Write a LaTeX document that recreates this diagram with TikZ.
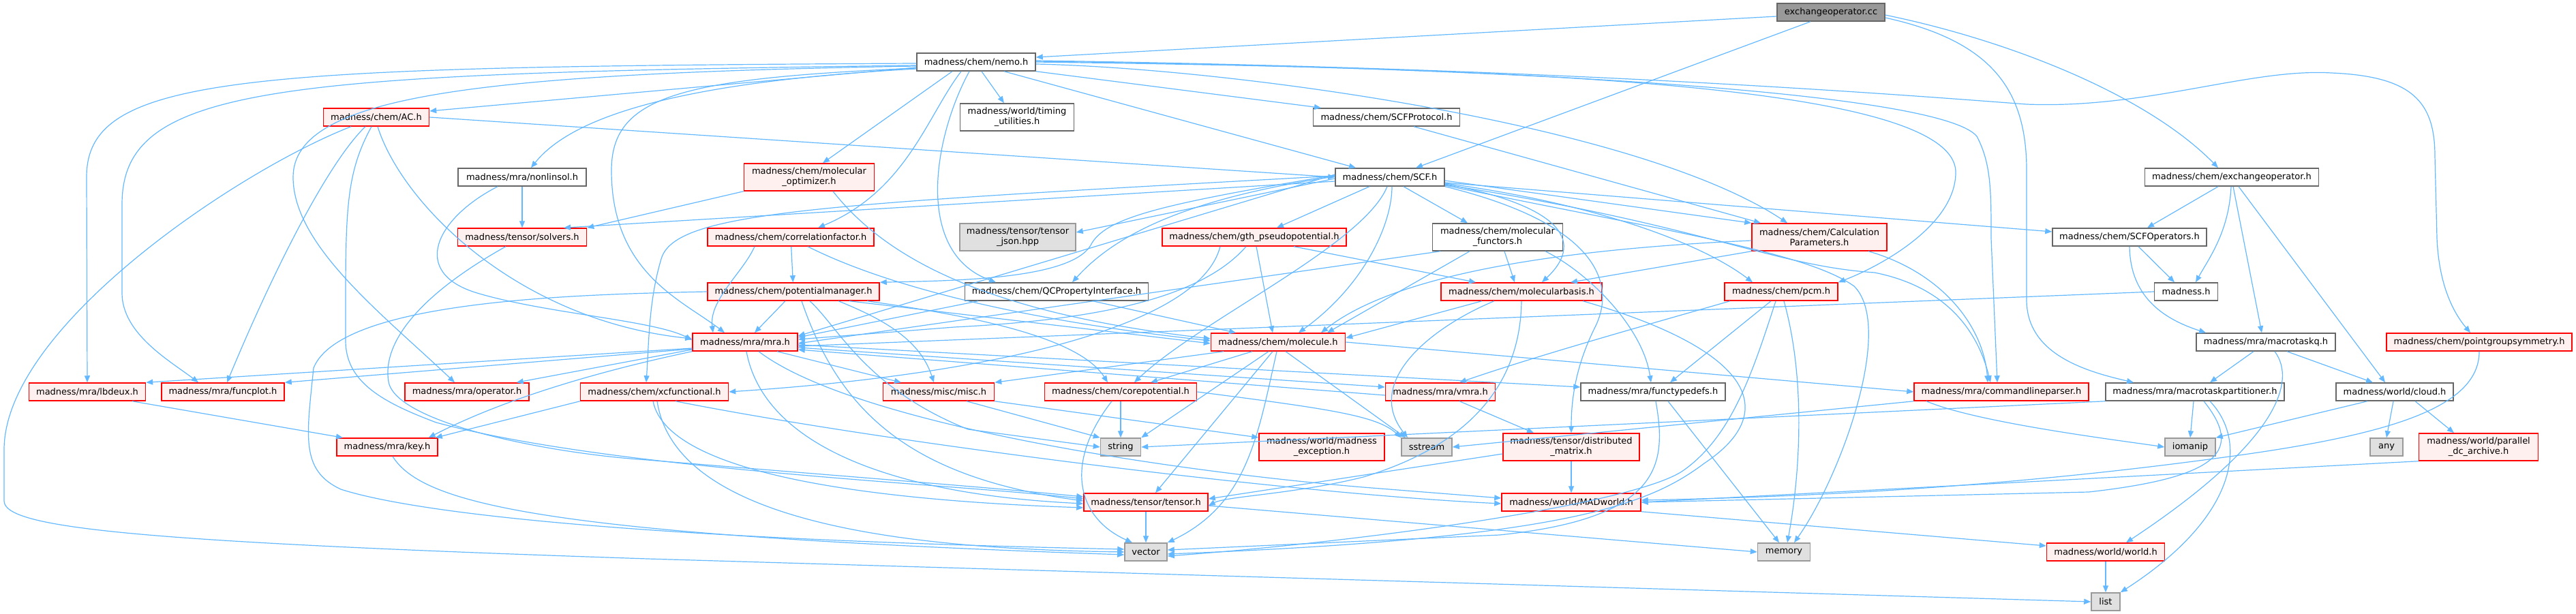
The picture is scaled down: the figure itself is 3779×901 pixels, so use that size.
\documentclass[tikz,border=0pt]{standalone}
\usepackage{fontspec}
\setmainfont{DejaVu Sans}
\usetikzlibrary{arrows.meta}
\definecolor{edgeblue}{HTML}{63B8FF}
\definecolor{redfill}{HTML}{FFF0F0}
\definecolor{grayborder}{HTML}{666666}
\definecolor{sysfill}{HTML}{E0E0E0}
\definecolor{sysborder}{HTML}{999999}
\definecolor{rootfill}{HTML}{999999}
\tikzset{
  nd/.style={rectangle, inner sep=0pt, line width=1.5pt, font=\fontsize{13}{15}\selectfont, align=center, minimum height=26pt},
  tall/.style={minimum height=40pt},
  wn/.style={nd, draw=grayborder, fill=white},
  rn/.style={nd, draw=red, fill=redfill},
  gn/.style={nd, draw=sysborder, fill=sysfill},
  rootn/.style={nd, draw=grayborder, fill=rootfill},
  e/.style={draw=edgeblue, line width=1.2pt, -{Triangle[length=10pt,width=8pt]}}
}
\begin{document}
\begin{tikzpicture}[x=1pt,y=-1pt]
\useasboundingbox (0,0) rectangle (3779,901);
% ---------- nodes ----------
\node[rootn, minimum width=158pt] (cc) at (2686,18) {exchangeoperator.cc};
\node[wn, minimum width=174pt] (nemo) at (1432,91) {madness/chem/nemo.h};
\node[rn, minimum width=155pt] (AC) at (552,172) {madness/chem/AC.h};
\node[wn, tall, minimum width=167pt] (timing) at (1492,172) {madness/world/timing\\\_utilities.h};
\node[wn, minimum width=215pt] (scfprot) at (2034,172) {madness/chem/SCFProtocol.h};
\node[wn, minimum width=160pt] (scf) at (2039,260) {madness/chem/SCF.h};
\node[wn, minimum width=188pt] (nonlin) at (766,260) {madness/mra/nonlinsol.h};
\node[rn, tall, minimum width=191pt] (molopt) at (1187,260) {madness/chem/molecular\\\_optimizer.h};
\node[wn, minimum width=255pt] (exop) at (3274,260) {madness/chem/exchangeoperator.h};
\node[rn, minimum width=189pt] (solvers) at (766,348) {madness/tensor/solvers.h};
\node[rn, minimum width=244pt] (corrf) at (1160,348) {madness/chem/correlationfactor.h};
\node[gn, tall, minimum width=170pt] (tjson) at (1493,348) {madness/tensor/tensor\\\_json.hpp};
\node[rn, minimum width=270pt] (gth) at (1840,348) {madness/chem/gth\_pseudopotential.h};
\node[wn, tall, minimum width=191pt] (molfun) at (2197,348) {madness/chem/molecular\\\_functors.h};
\node[rn, tall, minimum width=198pt] (calc) at (2669,348) {madness/chem/Calculation\\Parameters.h};
\node[wn, minimum width=226pt] (scfop) at (3124,348) {madness/chem/SCFOperators.h};
\node[rn, minimum width=252pt] (potm) at (1164,428) {madness/chem/potentialmanager.h};
\node[wn, minimum width=269pt] (qcp) at (1550,428) {madness/chem/QCPropertyInterface.h};
\node[rn, minimum width=236pt] (molbas) at (2232,428) {madness/chem/molecularbasis.h};
\node[rn, minimum width=166pt] (pcm) at (2613,428) {madness/chem/pcm.h};
\node[wn, minimum width=93pt] (madh) at (3207,428) {madness.h};
\node[rn, minimum width=154pt] (mra) at (1093,502) {madness/mra/mra.h};
\node[rn, minimum width=197pt] (molec) at (1875,502) {madness/chem/molecule.h};
\node[wn, minimum width=204pt] (mtq) at (3324,502) {madness/mra/macrotaskq.h};
\node[rn, minimum width=272pt] (pgs) at (3637,502) {madness/chem/pointgroupsymmetry.h};
\node[rn, minimum width=171pt] (lbdeux) at (128,575) {madness/mra/lbdeux.h};
\node[rn, minimum width=180pt] (funcplot) at (327,575) {madness/mra/funcplot.h};
\node[rn, minimum width=182pt] (operator) at (685,575) {madness/mra/operator.h};
\node[rn, minimum width=217pt] (xcf) at (960,575) {madness/chem/xcfunctional.h};
\node[rn, minimum width=163pt] (misc) at (1377,575) {madness/misc/misc.h};
\node[rn, minimum width=223pt] (corep) at (1644,575) {madness/chem/corepotential.h};
\node[rn, minimum width=161pt] (vmra) at (2113,575) {madness/mra/vmra.h};
\node[wn, minimum width=212pt] (ftd) at (2425,575) {madness/mra/functypedefs.h};
\node[rn, minimum width=256pt] (clp) at (2936,575) {madness/mra/commandlineparser.h};
\node[wn, minimum width=262pt] (mtp) at (3220,575) {madness/mra/macrotaskpartitioner.h};
\node[wn, minimum width=172pt] (cloud) at (3513,575) {madness/world/cloud.h};
\node[rn, minimum width=148pt] (key) at (568,656) {madness/mra/key.h};
\node[gn, minimum width=59pt] (string) at (1644,656) {string};
\node[rn, tall, minimum width=184pt] (mexc) at (1939,656) {madness/world/madness\\\_exception.h};
\node[gn, minimum width=74pt] (sstream) at (2093,656) {sstream};
\node[rn, tall, minimum width=200pt] (dmat) at (2305,656) {madness/tensor/distributed\\\_matrix.h};
\node[gn, minimum width=74pt] (iomanip) at (3213,656) {iomanip};
\node[gn, minimum width=48pt] (any) at (3501,656) {any};
\node[rn, tall, minimum width=175pt] (pdca) at (3636,656) {madness/world/parallel\\\_dc\_archive.h};
\node[rn, minimum width=182pt] (tensor) at (1681,737) {madness/tensor/tensor.h};
\node[rn, minimum width=204pt] (madw) at (2305,737) {madness/world/MADworld.h};
\node[gn, minimum width=62pt] (vector) at (1681,810) {vector};
\node[gn, minimum width=77pt] (memory) at (2617,810) {memory};
\node[rn, minimum width=173pt] (world) at (3089,810) {madness/world/world.h};
\node[gn, minimum width=42pt] (list) at (3089,883) {list};
% ---------- edges ----------
% exchangeoperator.cc
\draw[e] ([yshift=-6pt]cc.west) -- ([yshift=7pt]nemo.east);
\draw[e] ([xshift=-30pt]cc.south) -- ([xshift=38pt]scf.north);
\draw[e] ([yshift=-4pt]cc.east) .. controls (2950,60) and (3150,140) .. ([xshift=-20pt]exop.north);
\draw[e] ([yshift=-8pt]cc.east) .. controls (2920,60) and (2973,130) .. (2973,250) -- (2973,440) .. controls (2973,520) and (3060,545) .. ([xshift=-90pt]mtp.north);
% nemo
\draw[e] ([yshift=-8pt]nemo.west) -- ([yshift=9pt]AC.east);
\draw[e] ([yshift=-10pt]nemo.west) .. controls (1000,120) and (840,170) .. ([xshift=13pt]nonlin.north);
\draw[e] ([yshift=-2pt]nemo.west) .. controls (350,98) and (127,110) .. (127,260) -- (lbdeux.north);
\draw[e] ([yshift=-5pt]nemo.west) .. controls (400,108) and (179,125) .. (179,300) -- (179,430) .. controls (179,490) and (250,530) .. ([xshift=-36pt]funcplot.north);
\draw[e] ([yshift=-6pt]nemo.west) .. controls (700,108) and (430,140) .. (430,260) .. controls (430,360) and (560,460) .. ([xshift=-18pt]operator.north);
\draw[e] ([yshift=-9pt]nemo.west) .. controls (1000,115) and (897,140) .. (897,250) .. controls (897,400) and (1000,440) .. ([xshift=-30pt]mra.north);
\draw[e] ([xshift=-35pt]nemo.south) -- ([xshift=20pt]molopt.north);
\draw[e] ([xshift=-22pt]nemo.south) .. controls (1360,170) and (1330,280) .. ([xshift=40pt]corrf.north);
\draw[e] ([xshift=-10pt]nemo.south) .. controls (1370,200) and (1340,370) .. ([xshift=-89pt]qcp.north);
\draw[e] ([xshift=8pt]nemo.south) -- ([xshift=-19pt]timing.north);
\draw[e] ([xshift=41pt]nemo.south) -- ([xshift=-50pt]scf.north);
\draw[e] (nemo.south east) -- ([xshift=-96pt]scfprot.north);
\draw[e] ([yshift=-3pt]nemo.east) .. controls (1800,100) and (2400,180) .. ([xshift=-47pt]calc.north);
\draw[e] (nemo.east) .. controls (2200,100) and (2869,120) .. (2869,253) .. controls (2869,330) and (2760,390) .. (pcm.north east);
\draw[e] ([yshift=2pt]nemo.east) .. controls (2300,100) and (2800,140) .. (2973,153) .. controls (3150,160) and (3300,100) .. (3420,107) .. controls (3540,112) and (3572,150) .. (3572,230) -- (3575,350) .. controls (3578,420) and (3600,460) .. ([xshift=-13pt]pgs.north);
\draw[e] ([yshift=1pt]nemo.east) .. controls (2300,100) and (2850,140) .. (2900,200) .. controls (2921,240) and (2921,280) .. (2921,350) -- ([xshift=-6pt]clp.north);
% AC
\draw[e] (AC.east) -- (scf.west);
\draw[e] ([xshift=-37pt]AC.south) .. controls (350,250) and (6,480) .. (6,660) -- (6,735) .. controls (6,775) and (200,795) .. (950,820) -- (list.west);
\draw[e] ([xshift=-16pt]AC.south) .. controls (480,240) and (400,400) .. ([xshift=6pt]funcplot.north);
\draw[e] ([xshift=-7pt]AC.south) .. controls (510,250) and (507,300) .. (507,440) -- (507,500) .. controls (507,560) and (560,590) .. (640,620) .. controls (900,690) and (1400,710) .. ([yshift=5pt]tensor.west);
\draw[e] ([xshift=2pt]AC.south) .. controls (590,300) and (760,470) .. ([yshift=5pt]mra.west);
% nonlinsol
\draw[e] (nonlin) -- (solvers);
\draw[e] ([xshift=-36pt]nonlin.south) .. controls (640,320) and (600,400) .. (700,430) .. controls (800,460) and (960,470) .. ([yshift=3pt]mra.west);
% molecular_optimizer
\draw[e] (molopt.south west) -- (solvers.north east);
\draw[e] ([xshift=35pt]molopt.south) .. controls (1300,380) and (1450,460) .. ([yshift=5pt]molec.west);
% SCF
\draw[e] ([yshift=-6pt]scf.west) -- ([xshift=61pt]solvers.north);
\draw[e] ([yshift=-2pt]scf.west) -- ([yshift=7pt]tjson.east);
\draw[e] ([xshift=-30pt]scf.south) -- ([xshift=33pt]gth.north);
\draw[e] ([xshift=20pt]scf.south) -- ([xshift=-44pt]molfun.north);
\draw[e] ([yshift=-5pt]scf.east) -- (calc.north west);
\draw[e] ([yshift=-8pt]scf.east) -- ([yshift=8pt]scfop.west);
\draw[e] ([yshift=3pt]scf.west) .. controls (1700,300) and (1620,320) .. (1600,360) .. controls (1570,410) and (1400,412) .. (potm.north east);
\draw[e] ([yshift=1pt]scf.west) .. controls (1750,290) and (1640,340) .. ([xshift=23pt]qcp.north);
\draw[e] ([yshift=-10pt]scf.east) .. controls (2280,300) and (2330,350) .. ([xshift=30pt]molbas.north);
\draw[e] ([yshift=-9pt]scf.east) .. controls (2350,300) and (2500,360) .. ([xshift=-42pt]pcm.north);
\draw[e] ([yshift=4pt]scf.west) -- ([yshift=9pt]mra.east);
\draw[e] ([xshift=3pt]scf.south) .. controls (2042,330) and (2000,420) .. ([xshift=30pt]molec.north);
\draw[e] ([yshift=2pt]scf.west) .. controls (1200,300) and (990,310) .. (970,380) .. controls (952,440) and (952,500) .. ([xshift=-12pt]xcf.north);
\draw[e] ([xshift=-4pt]scf.south) .. controls (2000,360) and (1760,470) .. ([xshift=20pt]corep.north);
\draw[e] ([yshift=-11pt]scf.east) .. controls (2500,330) and (2600,390) .. (2750,400) .. controls (2850,420) and (2900,480) .. ([xshift=-16pt]clp.north);
\draw[e] ([yshift=-12pt]scf.east) .. controls (2450,340) and (2650,370) .. (2720,420) .. controls (2780,480) and (2700,700) .. ([xshift=15pt]memory.north);
\draw[e] (scf.south east) .. controls (2350,330) and (2370,420) .. (2340,480) .. controls (2310,540) and (2305,590) .. (dmat.north);
% exchangeoperator.h
\draw[e] ([xshift=-20pt]exop.south) -- ([xshift=26pt]scfop.north);
\draw[e] ([xshift=-1pt]exop.south) .. controls (3270,340) and (3240,380) .. ([xshift=14pt]madh.north);
\draw[e] ([xshift=2pt]exop.south) -- ([xshift=-6pt]mtq.north);
\draw[e] ([xshift=10pt]exop.south) -- ([xshift=-14pt]cloud.north);
% SCFOperators
\draw[e] ([xshift=13pt]scfop.south) -- ([xshift=-17pt]madh.north);
\draw[e] (scfop.south) .. controls (3125,440) and (3180,470) .. ([xshift=-88pt]mtq.north);
% madness.h
\draw[e] (madh.west) -- ([yshift=-6pt]mra.east);
% macrotaskq
\draw[e] ([xshift=-18pt]mtq.south) -- ([xshift=22pt]mtp.north);
\draw[e] ([xshift=13pt]mtq.south) .. controls (3370,560) and (3340,650) .. ([xshift=30pt]world.north);
\draw[e] ([xshift=31pt]mtq.south) -- ([xshift=-32pt]cloud.north);
% macrotaskpartitioner
\draw[e] ([xshift=-2pt]mtp.south) -- (iomanip.north);
\draw[e] ([xshift=22pt]mtp.south) .. controls (3300,650) and (3280,760) .. (list.north east);
\draw[e] ([xshift=13pt]mtp.south) .. controls (3290,660) and (3260,700) .. (3064,722) -- (madw.east);
\draw[e] (mtp.south west) -- (string.east);
% cloud
\draw[e] ([xshift=-40pt]cloud.south) -- (iomanip.north east);
\draw[e] ([xshift=-2pt]cloud.south) -- (any.north);
\draw[e] ([xshift=30pt]cloud.south) -- ([xshift=-36pt]pdca.north);
% parallel archive, pointgroupsymmetry
\draw[e] (pdca.south west) -- (madw.east);
\draw[e] (pgs.south) .. controls (3637,600) and (3500,640) .. (3248,673) .. controls (2900,720) and (2600,730) .. ([yshift=3pt]madw.east);
% correlationfactor
\draw[e] ([xshift=-53pt]corrf.south) .. controls (1090,400) and (1040,440) .. ([xshift=-47pt]mra.north);
\draw[e] (corrf) -- (potm);
\draw[e] ([xshift=25pt]corrf.south) .. controls (1300,420) and (1500,470) .. ([yshift=2pt]molec.west);
% potentialmanager
\draw[e] ([xshift=-12pt]potm.south) -- ([xshift=14pt]mra.north);
\draw[e] ([xshift=82pt]potm.south) -- ([yshift=-2pt]molec.west);
\draw[e] ([xshift=108pt]potm.south) .. controls (1400,460) and (1580,490) .. ([xshift=-19pt]corep.north);
\draw[e] ([xshift=66pt]potm.south) .. controls (1300,470) and (1350,500) .. ([xshift=-7pt]misc.north);
\draw[e] ([xshift=24pt]potm.south) .. controls (1230,480) and (1270,570) .. (1420,630) -- (string.west);
\draw[e] ([xshift=12pt]potm.south) .. controls (1230,600) and (1330,700) .. ([yshift=2pt]tensor.west);
\draw[e] (potm.west) .. controls (850,432) and (500,440) .. (460,540) .. controls (450,640) and (440,690) .. (500,718) .. controls (600,750) and (900,790) .. ([yshift=4pt]vector.west);
% QCPropertyInterface
\draw[e] ([xshift=-115pt]qcp.south) -- ([yshift=7pt]mra.east);
\draw[e] ([xshift=53pt]qcp.south) -- ([xshift=-62pt]molec.north);
% gth
\draw[e] ([xshift=-12pt]gth.south) .. controls (1760,440) and (1600,470) .. (1400,480) -- ([yshift=4pt]mra.east);
\draw[e] ([xshift=-50pt]gth.south) .. controls (1760,480) and (1450,550) .. (xcf.east);
\draw[e] ([xshift=3pt]gth.south) -- ([xshift=-8pt]molec.north);
\draw[e] ([xshift=58pt]gth.south) -- ([xshift=-67pt]molbas.north);
% molecular_functors
\draw[e] ([xshift=-84pt]molfun.south) -- ([yshift=-2pt]mra.east);
\draw[e] ([xshift=-41pt]molfun.south) -- ([xshift=72pt]molec.north);
\draw[e] ([xshift=10pt]molfun.south) -- ([xshift=-10pt]molbas.north);
\draw[e] ([xshift=70pt]molfun.south) .. controls (2330,400) and (2410,480) .. ([xshift=-3pt]ftd.north);
% CalculationParameters
\draw[e] (calc.south west) -- ([xshift=72pt]molbas.north);
\draw[e] ([yshift=-5pt]calc.west) .. controls (2300,365) and (2050,400) .. ([xshift=63pt]molec.north);
\draw[e] ([xshift=72pt]calc.south) .. controls (2850,400) and (2910,480) .. ([xshift=-20pt]clp.north);
% SCFProtocol
\draw[e] ([xshift=40pt]scfprot.south) -- ([xshift=-86pt]calc.north);
% molecularbasis
\draw[e] ([xshift=-58pt]molbas.south) -- ([yshift=6pt]molec.east);
\draw[e] ([xshift=-40pt]molbas.south) .. controls (2100,480) and (2000,560) .. ([xshift=-28pt]sstream.north);
\draw[e] (molbas.south) .. controls (2231,520) and (2200,640) .. (2000,700) .. controls (1900,725) and (1800,728) .. ([yshift=-5pt]tensor.east);
\draw[e] ([xshift=90pt]molbas.south) .. controls (2560,510) and (2620,600) .. (2500,680) .. controls (2420,740) and (2300,790) .. ([yshift=-3pt]vector.east);
% pcm
\draw[e] ([xshift=-75pt]pcm.south) .. controls (2440,470) and (2260,520) .. ([xshift=28pt]vmra.north);
\draw[e] ([xshift=-15pt]pcm.south) -- ([xshift=25pt]ftd.north);
\draw[e] ([xshift=-8pt]pcm.south) .. controls (2570,550) and (2540,640) .. (2470,690) .. controls (2400,740) and (2000,795) .. ([yshift=-6pt]vector.east);
\draw[e] ([xshift=4pt]pcm.south) .. controls (2650,560) and (2640,700) .. ([xshift=5pt]memory.north);
% mra
\draw[e] ([yshift=-9pt]mra.west) -- (lbdeux.north east);
\draw[e] ([yshift=-10pt]mra.west) -- (funcplot.north east);
\draw[e] ([yshift=-11pt]mra.west) -- ([xshift=-19pt]operator.north east);
\draw[e] (mra.south west) .. controls (900,540) and (750,580) .. ([xshift=-14pt]key.north east);
\draw[e] ([xshift=47pt]mra.south) -- ([xshift=-55pt]misc.north);
\draw[e] ([xshift=2pt]mra.south) .. controls (1120,650) and (1300,725) .. ([yshift=-2pt]tensor.west);
\draw[e] ([yshift=-8pt]mra.east) -- ([yshift=7pt]vmra.west);
\draw[e] ([yshift=-4pt]mra.east) -- ([yshift=7pt]ftd.west);
\draw[e] ([xshift=20pt]mra.south) .. controls (1250,620) and (1700,690) .. (2000,715) -- ([yshift=6pt]madw.west);
% vmra
\draw[e] ([yshift=-5pt]vmra.west) -- ([yshift=-11pt]mra.east);
\draw[e] ([xshift=28pt]vmra.south) -- ([xshift=-55pt]dmat.north);
% molecule
\draw[e] ([xshift=-38pt]molec.south) -- ([xshift=44pt]corep.north);
\draw[e] ([xshift=-80pt]molec.south) -- (misc.north east);
\draw[e] ([xshift=-14pt]molec.south) -- (string.north east);
\draw[e] ([xshift=-8pt]molec.south) -- ([xshift=14pt]tensor.north);
\draw[e] ([xshift=-2pt]molec.south) .. controls (1845,640) and (1830,740) .. (vector.north east);
\draw[e] (molec.east) -- (clp.west);
\draw[e] ([xshift=11pt]molec.south) -- ([xshift=-31pt]sstream.north);
% xcfunctional
\draw[e] (xcf.south west) -- ([xshift=-4pt]key.north east);
\draw[e] ([xshift=-2pt]xcf.south) .. controls (980,700) and (1300,735) .. ([yshift=-8pt]tensor.west);
\draw[e] ([xshift=4pt]xcf.south) .. controls (990,760) and (1300,805) .. (vector.west);
\draw[e] ([xshift=31pt]xcf.south) .. controls (1300,650) and (1900,725) .. ([yshift=-2pt]madw.west);
% lbdeux, key
\draw[e] ([xshift=66pt]lbdeux.south) -- ([xshift=-65pt]key.north);
\draw[e] ([xshift=8pt]key.south) .. controls (620,740) and (800,785) .. ([yshift=-4pt]vector.west);
% misc
\draw[e] ([xshift=41pt]misc.south) -- (string.north west);
\draw[e] (misc.south east) -- ([yshift=14pt]mexc.west);
% corepotential
\draw[e] (corep) -- (string);
\draw[e] ([xshift=-13pt]corep.south) .. controls (1560,680) and (1580,760) .. ([xshift=-20pt]vector.north);
\draw[e] (corep.east) .. controls (1950,600) and (2020,610) .. (sstream.north west);
% distributed matrix
\draw[e] (dmat) -- (madw);
\draw[e] ([yshift=-10pt]dmat.west) -- ([yshift=5pt]tensor.east);
% functypedefs
\draw[e] ([xshift=22pt]ftd.south) -- ([xshift=-7pt]memory.north);
\draw[e] ([xshift=4pt]ftd.south) .. controls (2445,680) and (2440,760) .. (2200,785) -- ([yshift=3pt]vector.east);
% commandlineparser
\draw[e] ([xshift=-110pt]clp.south) .. controls (2900,620) and (3100,645) .. (iomanip.west);
\draw[e] (clp.south west) -- (sstream.east);
% tensor
\draw[e] (tensor) -- (vector);
\draw[e] ([yshift=-5pt]tensor.east) -- (memory.west);
% solvers
\draw[e] ([xshift=-24pt]solvers.south) .. controls (620,430) and (560,500) .. (570,560) .. controls (580,620) and (800,665) .. (950,675) .. controls (1250,700) and (1450,715) .. ([yshift=8pt]tensor.west);
% MADworld, world
\draw[e] (madw.south east) -- ([yshift=9pt]world.west);
\draw[e] (world) -- (list);
\end{tikzpicture}
\end{document}
